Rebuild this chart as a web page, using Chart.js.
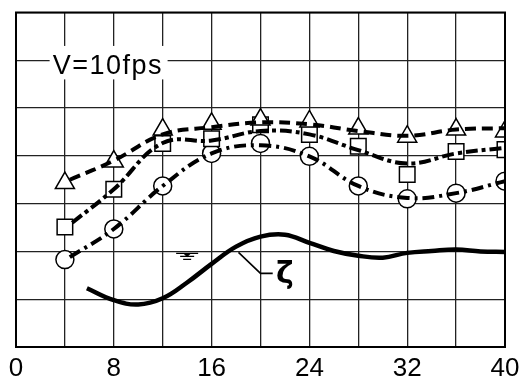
<!DOCTYPE html>
<html>
<head>
<meta charset="utf-8">
<script src="https://cdn.jsdelivr.net/npm/chart.js@4"></script>
<style>
  html, body { margin: 0; padding: 0; background: #fff; }
  #wrap { width: 530px; height: 386px; }
</style>
</head>
<body>
<div id="wrap"><canvas id="grafico"></canvas></div>
<script>
// eixo x (tempo) e rótulos
const tempos = [4, 8, 12, 16, 20, 24, 28, 32, 36, 40];
const rotulosX = ['0', '', '8', '', '16', '', '24', '', '32', '', '40'];

// marcadores medidos
const triangulos = [3.43, 3.88, 4.55, 4.67, 4.76, 4.72, 4.57, 4.40, 4.55, 4.51];
const quadrados = [2.51, 3.30, 4.26, 4.36, 4.65, 4.45, 4.20, 3.61, 4.09, 4.13];
const circulos = [1.83, 2.47, 3.37, 4.05, 4.26, 3.99, 3.37, 3.10, 3.22, 3.47];

// curvas ajustadas (desenhadas à mão no original)
const curvaTriX = [4.4, 8, 12, 16, 20, 24, 28, 32, 36, 40];
const curvaTri = [3.50, 3.90, 4.45, 4.60, 4.70, 4.66, 4.52, 4.42, 4.55, 4.58];
const curvaQuadX = [4.6, 8, 12, 16, 20, 24, 28, 32, 36, 40];
const curvaQuad = [2.60, 3.30, 4.27, 4.32, 4.52, 4.45, 4.12, 3.84, 4.05, 4.17];
const curvaCircX = [4.4, 8, 12, 16, 20, 24, 28, 32, 36, 40];
const curvaCirc = [1.88, 2.47, 3.37, 4.05, 4.22, 3.99, 3.37, 3.12, 3.22, 3.47];

// elevação da superfície (zeta)
const zetaX = [5.8, 8, 10, 12, 14, 16, 18, 20, 22, 24, 26, 28, 30, 32, 34, 36, 38, 40];
const zeta = [1.23, 0.98, 0.89, 1.02, 1.35, 1.74, 2.10, 2.31, 2.35, 2.18, 2.01, 1.91, 1.87, 1.97, 2.01, 2.04, 2.00, 1.99];

const pares = (xs, ys) => xs.map((x, i) => ({ x, y: ys[i] }));

const anotacoes = {
  id: 'anotacoes',
  afterDraw(chart) {
    const ctx = chart.ctx;
    const sx = chart.scales.x, sy = chart.scales.y;
    const px = v => sx.getPixelForValue(v);
    const py = v => sy.getPixelForValue(v);
    const area = chart.chartArea;
    ctx.save();
    // moldura
    ctx.strokeStyle = '#000';
    ctx.lineWidth = 2;
    ctx.strokeRect(area.left, area.top, area.right - area.left, area.bottom - area.top);

    // V=10fps com fundo branco
    ctx.fillStyle = '#fff';
    ctx.fillRect(px(2.75), py(6.3), px(12.4) - px(2.75), py(5.6) - py(6.3));
    ctx.fillStyle = '#000';
    ctx.font = '27px "Liberation Sans", Arial, sans-serif';
    ctx.letterSpacing = '1.5px';
    ctx.textBaseline = 'alphabetic';
    ctx.fillText('V=10fps', px(3.0), py(5.72));
    ctx.letterSpacing = '0px';

    // símbolo de nível de água
    ctx.lineWidth = 1.3;
    const wx = px(14.0), wy = py(1.96);
    ctx.beginPath();
    ctx.moveTo(wx - 11, wy); ctx.lineTo(wx + 11, wy);
    ctx.moveTo(wx - 7, wy + 3); ctx.lineTo(wx + 7, wy + 3);
    ctx.moveTo(wx - 4, wy + 6); ctx.lineTo(wx + 4, wy + 6);
    ctx.stroke();
    ctx.beginPath();
    ctx.moveTo(wx - 4, wy); ctx.lineTo(wx + 4, wy); ctx.lineTo(wx, wy + 4);
    ctx.closePath(); ctx.fill();

    // linha de chamada e zeta
    ctx.lineWidth = 1.6;
    ctx.beginPath();
    ctx.moveTo(px(18.2), py(1.98));
    ctx.lineTo(px(20.0), py(1.54));
    ctx.lineTo(px(21.0), py(1.54));
    ctx.stroke();
    ctx.font = 'bold 30px "DejaVu Sans", sans-serif';
    ctx.textAlign = 'center';
    ctx.textBaseline = 'middle';
    ctx.fillText('ζ', px(22.0), py(1.5));
    ctx.restore();
  }
};

const linha = (dados, dash, largura) => ({
  type: 'line',
  data: dados,
  borderColor: '#000',
  borderWidth: largura,
  borderDash: dash,
  pointRadius: 0,
  fill: false,
  tension: 0.4
});

const marcadores = (dados, estilo, raio) => ({
  type: 'scatter',
  data: dados,
  showLine: false,
  pointStyle: estilo,
  pointRadius: raio,
  pointBackgroundColor: '#fff',
  pointBorderColor: '#000',
  pointBorderWidth: 1.5
});

const ctx = document.getElementById('grafico');
const grafico = new Chart(ctx, {
  type: 'scatter',
  data: {
    datasets: [
      linha(pares(curvaTriX, curvaTri), [11, 6], 4),
      linha(pares(curvaQuadX, curvaQuad), [12, 4, 4, 4], 4),
      linha(pares(curvaCircX, curvaCirc), [12, 5, 3, 5], 4),
      linha(pares(zetaX, zeta), [], 4.5),
      marcadores(pares(tempos, triangulos), 'triangle', 11),
      marcadores(pares(tempos, quadrados), 'rect', 11),
      marcadores(pares(tempos, circulos), 'circle', 9)
    ]
  },
  options: {
    responsive: true,
    maintainAspectRatio: false,
    animation: false,
    layout: { padding: { top: 10, right: 25, left: 0, bottom: 0 } },
    plugins: { legend: { display: false }, tooltip: { enabled: false } },
    scales: {
      x: {
        type: 'linear',
        min: 0,
        max: 40,
        afterBuildTicks: s => { s.ticks = rotulosX.map((_, i) => ({ value: i * 4 })); },
        afterFit: s => { s.height = 39; },
        ticks: {
          autoSkip: false,
          maxRotation: 0,
          padding: 6,
          color: '#000',
          font: { size: 26, family: '"Liberation Sans", Arial, sans-serif' },
          callback: (v, i) => rotulosX[i]
        },
        grid: { color: '#222', lineWidth: 1.3, drawTicks: false },
        border: { color: '#000', width: 2 }
      },
      y: {
        min: 0,
        max: 7,
        afterFit: s => { s.width = 16; },
        ticks: { display: false, stepSize: 1 },
        grid: { color: '#222', lineWidth: 1.3, drawTicks: false },
        border: { color: '#000', width: 2 }
      }
    }
  },
  plugins: [anotacoes]
});
</script>
</body>
</html>
